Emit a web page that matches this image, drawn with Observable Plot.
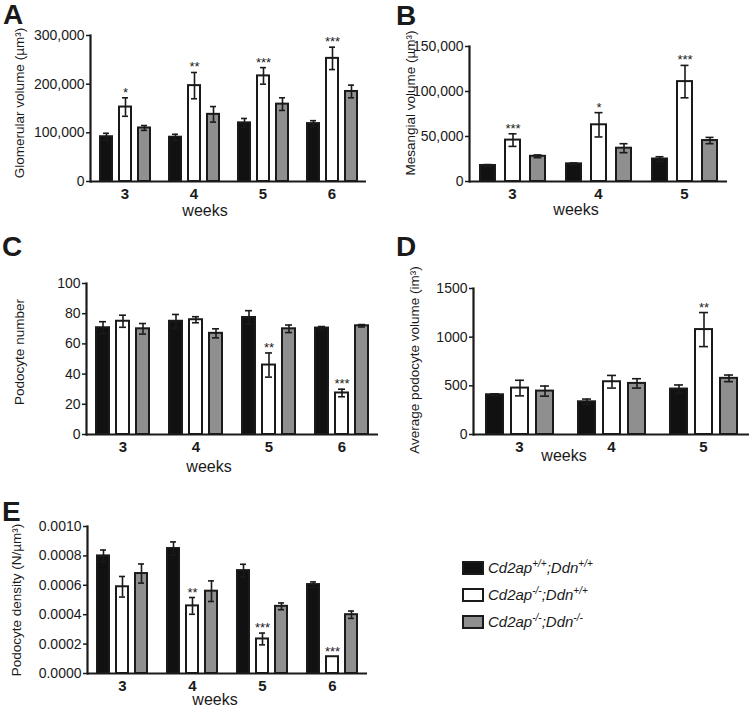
<!DOCTYPE html>
<html><head><meta charset="utf-8">
<script src="https://cdn.jsdelivr.net/npm/d3@7"></script>
<script src="https://cdn.jsdelivr.net/npm/@observablehq/plot@0.6"></script>
<style>
body{margin:0;background:#fff;font-family:"Liberation Sans",Arial,Helvetica,sans-serif;color:#1a1a1a;}
#fig{position:relative;width:749px;height:708px;overflow:hidden;background:#fff;}
.panel{position:absolute;}
.letter{position:absolute;font-weight:bold;font-size:28px;line-height:1;}
.weeks{position:absolute;font-size:16px;transform:translate(-50%,-50%);white-space:nowrap;line-height:1;}
.ylab{position:absolute;font-size:13.5px;transform:translate(-50%,-50%) rotate(-90deg);white-space:nowrap;line-height:1;}
.leg{position:absolute;font-size:15px;font-style:italic;white-space:nowrap;line-height:16px;}
.sw{position:absolute;width:18px;height:10px;border:2px solid #1a1a1a;}
.leg sup{font-size:10px;vertical-align:6px;line-height:0;}
</style></head><body><div id="fig"></div>
<script>
const groups = ["Cd2ap+/+;Ddn+/+", "Cd2ap-/-;Ddn+/+", "Cd2ap-/-;Ddn-/-"];
const groupColors = ["#111111", "#ffffff", "#8f8f8f"];
const legendParts = [["Cd2ap","+/+",";Ddn","+/+"],["Cd2ap","-/-",";Ddn","+/+"],["Cd2ap","-/-",";Ddn","-/-"]];

// Panel A: Glomerular volume
const weeksA = [3, 4, 5, 6];
const meanA = [[92000,153000,110000],[91000,197000,138000],[120500,217000,159000],[119000,253000,185000]];
const errA  = [[7000,19000,5000],[6000,27000,16000],[9000,17000,13000],[6000,23000,13000]];
const starsA = [["","*",""],["","**",""],["","***",""],["","***",""]];
const ticksA = [0, 100000, 200000, 300000];

// Panel B: Mesangial volume
const weeksB = [3, 4, 5];
const meanB = [[17800,46000,28000],[19600,63000,37000],[25000,111000,45500]];
const errB  = [[1000,7000,1500],[1000,13500,5000],[2500,18000,3500]];
const starsB = [["","***",""],["","*",""],["","***",""]];
const ticksB = [0, 50000, 100000, 150000];

// Panel C: Podocyte number
const weeksC = [3, 4, 5, 6];
const meanC = [[70.7,75,70],[75,76,67],[77.5,46,70],[70.5,27.5,72]];
const errC  = [[4,4,3.5],[4.5,2,3],[4.5,8,2.5],[1,2.5,0.8]];
const starsC = [["","",""],["","",""],["","**",""],["","***",""]];
const ticksC = [0, 20, 40, 60, 80, 100];

// Panel D: Average podocyte volume
const weeksD = [3, 4, 5];
const meanD = [[408,477,446],[336,542,525],[467,1078,577]];
const errD  = [[10,80,52],[28,65,48],[42,175,34]];
const starsD = [["","",""],["","",""],["","**",""]];
const ticksD = [0, 500, 1000, 1500];

// Panel E: Podocyte density
const weeksE = [3, 4, 5, 6];
const meanE = [[0.0008,0.00059,0.00068],[0.00085,0.00046,0.00056],[0.0007,0.000235,0.000457],[0.000605,0.000114,0.0004]];
const errE  = [[0.00004,0.00007,0.000065],[0.000045,0.000057,0.00007],[0.000043,0.00004,0.000023],[0.000018,0,0.000025]];
const starsE = [["","",""],["","**",""],["","***",""],["","***",""]];
const ticksE = [0, 0.0002, 0.0004, 0.0006, 0.0008, 0.001];

const fig = document.getElementById("fig");
const FONT = '"Liberation Sans", Arial, Helvetica, sans-serif';

function panel(c) {
  const data = [];
  c.weeks.forEach((w, i) => groups.forEach((g, j) =>
    data.push({week: w, group: g, mean: c.mean[i][j], err: c.err[i][j], star: c.stars[i][j]})));
  const withErr = data.filter(d => d.err > 0);
  const svg = Plot.plot({
    width: c.width, height: c.height,
    marginLeft: c.ml, marginRight: c.mr, marginTop: c.mt, marginBottom: c.mb,
    style: {fontFamily: FONT, fontSize: "14px", color: "#1a1a1a", background: "transparent", overflow: "visible"},
    fx: {domain: c.weeks, paddingInner: 0, paddingOuter: 0, label: null},
    x: {domain: groups, paddingInner: c.pi, paddingOuter: c.po, axis: null},
    y: {domain: [0, c.ticks[c.ticks.length - 1]]},
    color: {domain: groups, range: groupColors},
    marks: [
      Plot.barY(data, {fx: "week", x: "group", y: "mean", fill: "group", stroke: "#1a1a1a", strokeWidth: 2}),
      Plot.ruleX(withErr, {fx: "week", x: "group", y1: d => d.mean - d.err, y2: d => d.mean + d.err, stroke: "#1a1a1a", strokeWidth: 1.6}),
      Plot.tickY(withErr, {fx: "week", x: "group", y: d => d.mean + d.err, stroke: "#1a1a1a", strokeWidth: 1.6, insetLeft: c.cap, insetRight: c.cap}),
      Plot.tickY(withErr, {fx: "week", x: "group", y: d => d.mean - d.err, stroke: "#1a1a1a", strokeWidth: 1.6, insetLeft: c.cap, insetRight: c.cap}),
      Plot.text(data.filter(d => d.star), {fx: "week", x: "group", y: d => d.mean + d.err, text: "star", lineAnchor: "bottom", dy: -1, fontSize: 13, fill: "#1a1a1a"}),
      Plot.ruleY([0], {stroke: "#1a1a1a", strokeWidth: 2.2}),
      Plot.frame({anchor: "left", facetAnchor: "left", stroke: "#1a1a1a", strokeWidth: 2.2}),
      Plot.axisY({ticks: c.ticks, tickFormat: c.fmt, tickSize: 4, tickPadding: 2, strokeWidth: 1.5, label: null, fontSize: 14}),
      Plot.axisFx({anchor: "bottom", tickSize: 0, tickPadding: 7, fontWeight: "bold", fontSize: 15, label: null})
    ]
  });
  svg.classList.add("panel");
  svg.style.left = c.left + "px";
  svg.style.top = c.top + "px";
  fig.appendChild(svg);
  const yl = document.createElement("div");
  yl.className = "ylab"; yl.textContent = c.label;
  yl.style.left = c.lx + "px"; yl.style.top = c.ly + "px";
  fig.appendChild(yl);
}

panel({weeks: weeksA, mean: meanA, err: errA, stars: starsA, ticks: ticksA, fmt: d3.format(","),
  label: "Glomerular volume (µm³)", left: 0, top: 0, width: 380, height: 225, ml: 89, mr: 13, mt: 35, mb: 44,
  pi: 0.385, po: 0.475, cap: 3, lx: 20, ly: 103});
panel({weeks: weeksB, mean: meanB, err: errB, stars: starsB, ticks: ticksB, fmt: d3.format(","),
  label: "Mesangial volume (µm³)", left: 380, top: 0, width: 369, height: 225, ml: 89, mr: 22, mt: 46, mb: 44,
  pi: 0.4, po: 0.42, cap: 3.5, lx: 411, ly: 103});
panel({weeks: weeksC, mean: meanC, err: errC, stars: starsC, ticks: ticksC, fmt: d3.format("d"),
  label: "Podocyte number", left: 0, top: 240, width: 380, height: 230, ml: 86, mr: 2, mt: 43, mb: 36,
  pi: 0.35, po: 0.5, cap: 3, lx: 20, ly: 352});
panel({weeks: weeksD, mean: meanD, err: errD, stars: starsD, ticks: ticksD, fmt: d3.format("d"),
  label: "Average podocyte volume (im³)", left: 380, top: 240, width: 369, height: 230, ml: 92, mr: 0, mt: 48, mb: 36,
  pi: 0.33, po: 0.475, cap: 4, lx: 415, ly: 360});
panel({weeks: weeksE, mean: meanE, err: errE, stars: starsE, ticks: ticksE, fmt: d3.format(".4f"),
  label: "Podocyte density (N/µm³)", left: 0, top: 480, width: 380, height: 228, ml: 86, mr: 12, mt: 46, mb: 35,
  pi: 0.35, po: 0.44, cap: 3, lx: 17, ly: 600});

// panel letters
[["A", 3, 1], ["B", 396, 2], ["C", 2, 233], ["D", 396, 233], ["E", 2, 498]].forEach(([t, x, y]) => {
  const d = document.createElement("div");
  d.className = "letter"; d.textContent = t; d.style.left = x + "px"; d.style.top = y + "px";
  fig.appendChild(d);
});
// x-axis titles
[[205, 211], [576, 210], [209, 467], [564, 456], [215, 700]].forEach(([x, y]) => {
  const d = document.createElement("div");
  d.className = "weeks"; d.textContent = "weeks"; d.style.left = x + "px"; d.style.top = y + "px";
  fig.appendChild(d);
});
// legend
legendParts.forEach((p, i) => {
  const y = 561 + i * 27;
  const sw = document.createElement("div");
  sw.className = "sw"; sw.style.left = "462px"; sw.style.top = y + "px"; sw.style.background = groupColors[i];
  fig.appendChild(sw);
  const t = document.createElement("div");
  t.className = "leg"; t.style.left = "488px"; t.style.top = (y - 1) + "px";
  t.innerHTML = `${p[0]}<sup>${p[1]}</sup>${p[2]}<sup>${p[3]}</sup>`;
  fig.appendChild(t);
});
</script></body></html>
